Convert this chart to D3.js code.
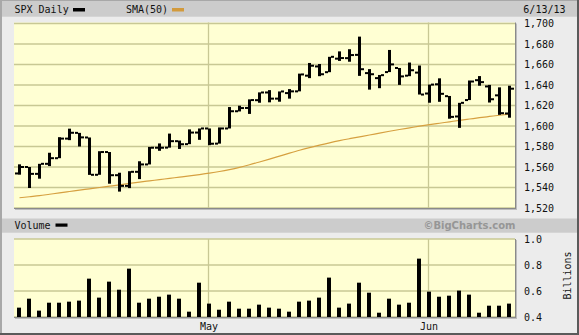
<!DOCTYPE html>
<html><head><meta charset="utf-8">
<script src="https://cdn.jsdelivr.net/npm/d3@7"></script>
<style>body{margin:0;background:#ececec}svg{display:block}</style>
</head><body><svg id="c" width="579" height="335"></svg>
<script>
const dates = ["2013-04-04","2013-04-05","2013-04-08","2013-04-09","2013-04-10","2013-04-11","2013-04-12","2013-04-15","2013-04-16","2013-04-17",
"2013-04-18","2013-04-19","2013-04-22","2013-04-23","2013-04-24","2013-04-25","2013-04-26","2013-04-29","2013-04-30","2013-05-01",
"2013-05-02","2013-05-03","2013-05-06","2013-05-07","2013-05-08","2013-05-09","2013-05-10","2013-05-13","2013-05-14","2013-05-15",
"2013-05-16","2013-05-17","2013-05-20","2013-05-21","2013-05-22","2013-05-23","2013-05-24","2013-05-28","2013-05-29","2013-05-30",
"2013-05-31","2013-06-03","2013-06-04","2013-06-05","2013-06-06","2013-06-07","2013-06-10","2013-06-11","2013-06-12","2013-06-13"];
const openP = [1553.7,1560.0,1553.3,1563.1,1568.6,1587.7,1593.3,1588.8,1552.4,1574.6,
1552.0,1541.6,1555.3,1562.5,1578.8,1578.9,1585.2,1582.3,1593.6,1597.6,
1582.8,1597.6,1614.4,1617.6,1625.2,1632.7,1626.7,1632.1,1633.8,1649.1,
1658.1,1652.5,1665.7,1666.2,1669.4,1651.6,1646.7,1652.6,1656.6,1649.1,
1652.1,1631.7,1640.7,1629.1,1609.3,1625.3,1644.7,1638.6,1629.9,1612.2];
const highP = [1562.6,1560.0,1563.1,1573.9,1589.1,1597.4,1593.3,1588.8,1575.4,1574.6,
1554.4,1555.9,1565.6,1579.6,1583.0,1592.6,1585.8,1596.7,1597.6,1597.6,
1598.6,1618.5,1619.8,1626.0,1632.8,1635.0,1633.7,1636.0,1651.1,1661.5,
1660.5,1667.5,1672.8,1674.9,1687.2,1655.5,1649.8,1674.2,1656.6,1661.9,
1659.0,1640.4,1646.5,1629.3,1622.6,1644.4,1648.7,1640.1,1637.7,1639.3];
const lowP = [1552.5,1539.5,1548.6,1560.9,1568.6,1586.2,1580.0,1552.3,1552.4,1543.7,
1536.0,1539.4,1548.2,1562.5,1575.8,1578.9,1577.6,1582.3,1586.5,1581.3,
1582.8,1597.6,1614.2,1611.8,1622.7,1623.1,1623.7,1626.7,1633.8,1646.7,
1648.6,1652.5,1663.5,1662.7,1648.9,1635.5,1636.9,1652.6,1640.1,1648.6,
1630.7,1622.7,1623.6,1607.1,1598.2,1625.3,1639.3,1622.9,1610.9,1608.1];
const closeP = [1560.0,1553.3,1563.1,1568.6,1587.7,1593.4,1588.9,1552.4,1574.6,1552.0,
1541.6,1555.3,1562.5,1578.8,1578.8,1585.2,1582.2,1593.6,1597.6,1582.7,
1597.6,1614.4,1617.5,1625.3,1632.7,1626.7,1633.7,1633.8,1650.3,1658.8,
1650.5,1667.5,1666.3,1669.2,1655.4,1650.5,1649.6,1660.1,1648.4,1654.4,
1630.7,1640.4,1631.4,1608.9,1622.6,1643.4,1642.8,1626.1,1612.5,1636.4];
const sma50 = [1530.0,1531.0,1532.0,1533.4,1534.8,1536.1,1537.4,1538.7,1540.0,1541.3,
1542.6,1544.0,1545.3,1546.5,1547.7,1548.9,1550.1,1551.3,1552.6,1554.0,
1555.6,1557.5,1559.7,1562.2,1564.9,1567.7,1570.6,1573.5,1576.3,1578.9,
1581.3,1583.6,1585.7,1587.6,1589.4,1591.2,1593.1,1594.9,1596.6,1598.2,
1599.8,1601.3,1602.7,1604.1,1605.5,1606.8,1608.1,1609.3,1610.5,1611.6];
const volume = [0.472,0.541,0.449,0.510,0.510,0.518,0.526,0.695,0.549,0.672,
0.610,0.772,0.510,0.541,0.556,0.572,0.541,0.441,0.664,0.503,
0.456,0.518,0.464,0.464,0.495,0.472,0.464,0.441,0.518,0.526,
0.549,0.703,0.472,0.503,0.664,0.587,0.433,0.541,0.495,0.510,
0.849,0.595,0.556,0.564,0.603,0.572,0.433,0.487,0.487,0.503];
const priceTicks = [1520,1540,1560,1580,1600,1620,1640,1660,1680,1700];
const volumeTicks = [0.4,0.6,0.8,1.0];
const xTickDates = ["2013-05-01","2013-06-03"];
const xTickLabels = ["May","Jun"];

const W = 579, H = 335;
const MONO = "'DejaVu Sans Mono', monospace";
const svg = d3.select("#c");
const plotL = 14, plotR = 515;

svg.append("rect").attr("width", W).attr("height", H).attr("fill", "#ececec");
svg.append("rect").attr("x", 2).attr("y", 1).attr("width", 575).attr("height", 15.7).attr("fill", "#cccccc");
svg.append("rect").attr("x", 2).attr("y", 218.5).attr("width", 575).attr("height", 14.2).attr("fill", "#cccccc");
svg.append("rect").attr("x", 0).attr("y", 0).attr("width", W).attr("height", 1).attr("fill", "#a8a8a8");
svg.append("rect").attr("x", 0).attr("y", 0).attr("width", 2).attr("height", H).attr("fill", "#a8a8a8");
svg.append("rect").attr("x", 577).attr("y", 0).attr("width", 2).attr("height", H).attr("fill", "#5a5a5a");
svg.append("rect").attr("x", 0).attr("y", 333).attr("width", W).attr("height", 2).attr("fill", "#5a5a5a");

const x = d3.scalePoint().domain(dates).range([19.5, 509.5]);
const yP = d3.scaleLinear().domain([1520, 1700]).range([208, 23.5]);
const yV = d3.scaleLinear().domain([0.4, 1.0]).range([317, 239]);

function panel(top, bottom) {
  svg.append("rect").attr("x", plotL).attr("y", top).attr("width", plotR - plotL).attr("height", bottom - top).attr("fill", "#ffffd3");
}
function shadow(top, bottom) {
  svg.append("rect").attr("x", plotL).attr("y", bottom).attr("width", plotR - plotL + 2).attr("height", 1).attr("fill", "#8a8a8a");
  svg.append("rect").attr("x", plotR).attr("y", top).attr("width", 1).attr("height", bottom - top + 1).attr("fill", "#8a8a8a");
  svg.append("rect").attr("x", plotL + 1).attr("y", bottom + 1).attr("width", plotR - plotL + 1).attr("height", 1).attr("fill", "#bdbdbd");
  svg.append("rect").attr("x", plotR + 1).attr("y", top + 1).attr("width", 1).attr("height", bottom - top + 1).attr("fill", "#bdbdbd");
}
const gridC = "#c8c894";

panel(22.5, 208);
svg.append("g").selectAll("line").data(priceTicks).join("line")
  .attr("x1", plotL).attr("x2", plotR).attr("y1", d => yP(d)).attr("y2", d => yP(d))
  .attr("stroke", gridC).attr("stroke-width", 1.3);
svg.append("g").selectAll("line").data(xTickDates).join("line")
  .attr("x1", d => x(d) - 1).attr("x2", d => x(d) - 1).attr("y1", 22.5).attr("y2", 208)
  .attr("stroke", gridC).attr("stroke-width", 1.3);

const sLine = d3.line().x((d, i) => x(dates[i])).y(d => yP(d)).curve(d3.curveMonotoneX);
svg.append("path").datum(sma50).attr("d", sLine).attr("fill", "none")
  .attr("stroke", "#d6a040").attr("stroke-width", 1.2);

const ohlc = dates.map((d, i) => ({d, o: openP[i], h: highP[i], l: lowP[i], c: closeP[i]}));
const gb = svg.append("g").attr("fill", "#000");
gb.selectAll("rect.hl").data(ohlc).join("rect").attr("class", "hl")
  .attr("x", d => x(d.d) - 1.5).attr("width", 3)
  .attr("y", d => yP(d.h)).attr("height", d => yP(d.l) - yP(d.h));
gb.selectAll("rect.op").data(ohlc).join("rect").attr("class", "op")
  .attr("x", d => x(d.d) - 4.5).attr("width", 3)
  .attr("y", d => yP(d.o) - 1).attr("height", 2);
gb.selectAll("rect.cl").data(ohlc).join("rect").attr("class", "cl")
  .attr("x", d => x(d.d) + 1.5).attr("width", 3)
  .attr("y", d => yP(d.c) - 1).attr("height", 2);
shadow(22.5, 208);

const pa = svg.append("g").attr("transform", "translate(524,0)")
  .call(d3.axisRight(yP).tickValues(priceTicks).tickFormat(d3.format(",")).tickSize(0).tickPadding(0));
pa.select(".domain").remove();
pa.selectAll("text").attr("font-family", MONO).attr("font-size", 10).attr("fill", "#111");

panel(239, 317);
svg.append("g").selectAll("line").data(volumeTicks).join("line")
  .attr("x1", plotL).attr("x2", plotR).attr("y1", d => yV(d)).attr("y2", d => yV(d))
  .attr("stroke", gridC).attr("stroke-width", 1.3);
svg.append("g").selectAll("line").data(xTickDates).join("line")
  .attr("x1", d => x(d) - 1).attr("x2", d => x(d) - 1).attr("y1", 239).attr("y2", 317)
  .attr("stroke", gridC).attr("stroke-width", 1.3);
svg.append("g").selectAll("rect").data(volume).join("rect")
  .attr("x", (d, i) => x(dates[i]) - 2.5).attr("width", 4)
  .attr("y", d => yV(d)).attr("height", d => yV(0.4) - yV(d)).attr("fill", "#000");
shadow(239, 317);

const va = svg.append("g").attr("transform", "translate(524,0)")
  .call(d3.axisRight(yV).tickValues(volumeTicks).tickFormat(d3.format(".1f")).tickSize(0).tickPadding(0));
va.select(".domain").remove();
va.selectAll("text").attr("font-family", MONO).attr("font-size", 10).attr("fill", "#111");

svg.append("text").attr("transform", "translate(567,275.5) rotate(-90)")
  .attr("text-anchor", "middle").attr("dy", "0.35em")
  .attr("font-family", MONO).attr("font-size", 10).attr("fill", "#111").text("Billions");

const xa = svg.append("g").attr("transform", "translate(-1,322.5)")
  .call(d3.axisBottom(x).tickValues(xTickDates).tickFormat((d, i) => xTickLabels[i]).tickSize(0).tickPadding(0));
xa.select(".domain").remove();
xa.selectAll("text").attr("font-family", MONO).attr("font-size", 10).attr("fill", "#111");

function txt(t, xx, yy, anchor) {
  return svg.append("text").attr("x", xx).attr("y", yy).attr("text-anchor", anchor || "start")
    .attr("font-family", MONO).attr("font-size", 10).attr("fill", "#111").text(t);
}
txt("SPX Daily", 14.5, 12.7);
svg.append("rect").attr("x", 73).attr("y", 8).attr("width", 12).attr("height", 3.5).attr("fill", "#000");
txt("SMA(50)", 126, 12.7);
svg.append("rect").attr("x", 172).attr("y", 8).attr("width", 12).attr("height", 3.5).attr("fill", "#d29a3c");
txt("6/13/13", 565.5, 12.7, "end");
txt("Volume", 14.5, 229);
svg.append("rect").attr("x", 55.5).attr("y", 223.5).attr("width", 12).attr("height", 3.2).attr("fill", "#000");
svg.append("text").attr("x", 515.5).attr("y", 229).attr("text-anchor", "end")
  .attr("font-family", "'DejaVu Sans', sans-serif").attr("font-weight", "bold").attr("font-size", 10)
  .attr("fill", "#969696").text("©BigCharts.com");
</script></body></html>
